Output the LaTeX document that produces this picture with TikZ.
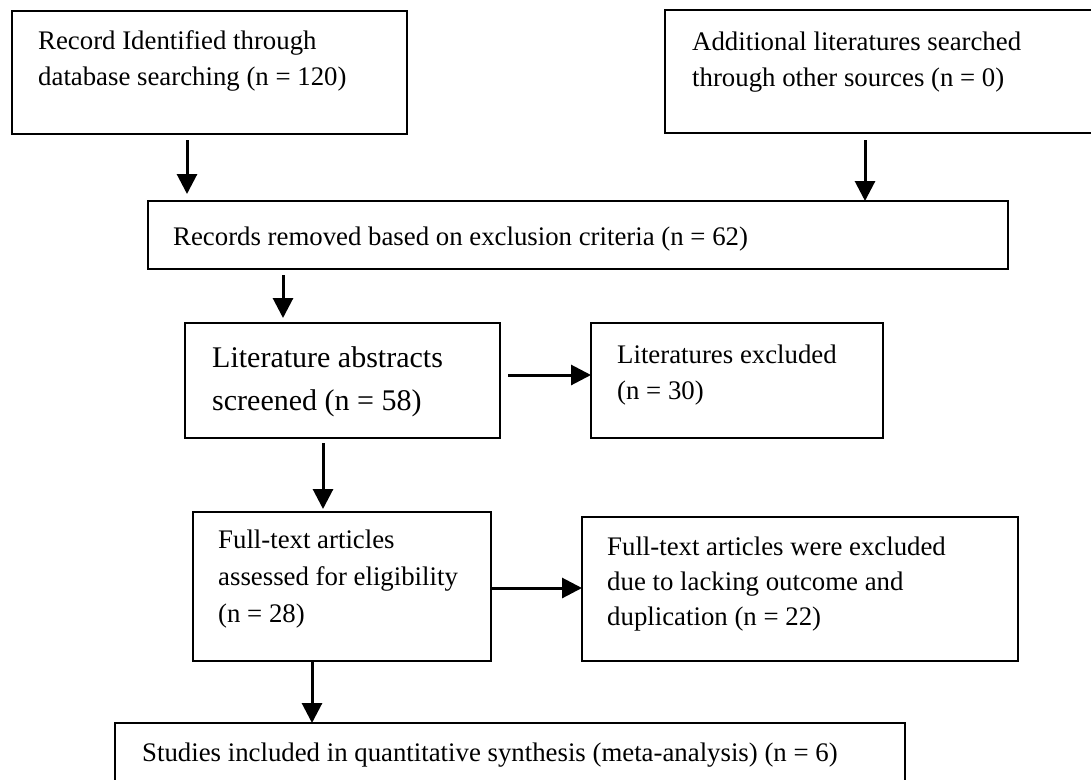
\documentclass[tikz,border=0pt]{standalone}
\usepackage{fontspec}
\setmainfont{Liberation Serif}
\usetikzlibrary{arrows.meta,calc}
\begin{document}
\begin{tikzpicture}[x=1pt,y=-1pt,
  box/.style={draw=black,line width=2.8pt,inner sep=0pt,outer sep=0pt,anchor=north west},
  txt/.style={anchor=north west,inner sep=0pt,align=left,font=\fontsize{26.8}{36}\selectfont},
  bigtxt/.style={anchor=north west,inner sep=0pt,align=left,font=\fontsize{30}{43}\selectfont},
  arr/.style={line width=3pt,-{Triangle[length=20pt,width=20pt]}}]
\useasboundingbox (0,0) rectangle (1091,779);
% boxes
\node[box,minimum width=395pt,minimum height=123pt] (b1) at (12,11) {};
\node[box,minimum width=440pt,minimum height=123pt] (b2) at (665,10) {};
\node[box,minimum width=860pt,minimum height=68pt] (b3) at (148,201) {};
\node[box,minimum width=315pt,minimum height=115pt] (b4) at (185,323) {};
\node[box,minimum width=292pt,minimum height=115pt] (b5) at (591,323) {};
\node[box,minimum width=298pt,minimum height=149pt] (b6) at (193,512) {};
\node[box,minimum width=436pt,minimum height=144pt] (b7) at (582,517) {};
\node[box,minimum width=790pt,minimum height=90pt] (b8) at (115,723) {};
% texts
\node[txt] (t1) at (38,23.8) {\strut Record Identified through\\database searching (n = 120)};
\node[txt] (t2) at (692,24.8) {\strut Additional literatures searched\\through other sources (n = 0)};
\node[txt] (t3) at (173,219.8) {\strut Records removed based on exclusion criteria (n = 62)};
\node[bigtxt] (t4) at (212,336.9) {\strut Literature abstracts\\screened (n = 58)};
\node[txt] (t5) at (617,337.8) {\strut Literatures excluded\\(n = 30)};
\node[txt,font=\fontsize{26.8}{37}\selectfont] (t6) at (218,522.1) {\strut Full-text articles\\assessed for eligibility\\(n = 28)};
\node[txt,font=\fontsize{26.8}{35}\selectfont] (t7) at (607,530.5) {\strut Full-text articles were excluded\\due to lacking outcome and\\duplication (n = 22)};
\node[txt] (t8) at (142,735.8) {\strut Studies included in quantitative synthesis (meta-analysis) (n = 6)};
% connector start points
\coordinate (a1s) at ($(b1.south west)+(175,6)$);
\coordinate (a2s) at ($(b2.south west)+(200,7)$);
\coordinate (a3s) at ($(b3.south west)+(135,6)$);
\coordinate (a4s) at ($(b4.north east)+(8,52)$);
\coordinate (a5s) at ($(b4.south west)+(138,5)$);
\coordinate (a6s) at ($(b6.north east)+(0,76)$);
\coordinate (a7s) at ($(b6.south west)+(119,0)$);
% connectors
\draw[arr,shorten >=7pt] (a1s) -- (a1s |- b3.north);
\draw[arr] (a2s) -- (a2s |- b3.north);
\draw[arr,shorten >=5pt] (a3s) -- (a3s |- b4.north);
\draw[arr] (a4s) -- (a4s -| b5.west);
\draw[arr,shorten >=3pt] (a5s) -- (a5s |- b6.north);
\draw[arr] (a6s) -- (a6s -| b7.west);
\draw[arr] (a7s) -- (a7s |- b8.north);
\end{tikzpicture}
\end{document}
